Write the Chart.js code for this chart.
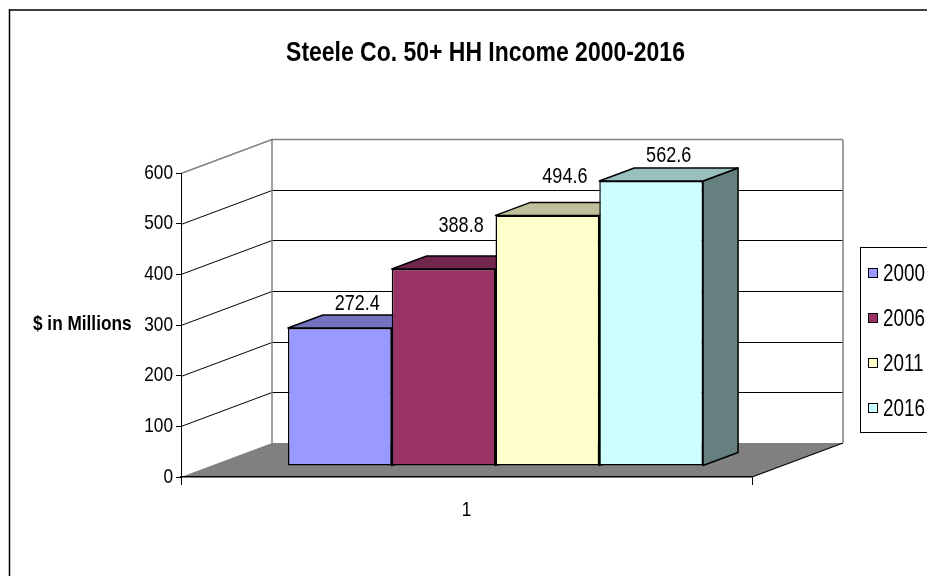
<!DOCTYPE html>
<html><head><meta charset="utf-8">
<script src="https://cdn.jsdelivr.net/npm/chart.js@4.4.0/dist/chart.umd.min.js"></script>
<style>html,body{margin:0;padding:0;background:#fff;overflow:hidden}canvas{display:block}</style>
</head><body>
<canvas id="c" width="927" height="576"></canvas>
<script>
// ---- data ----
const categories = ['1'];
const seriesNames = ['2000', '2006', '2011', '2016'];
const values2000 = [272.4];
const values2006 = [388.8];
const values2011 = [494.6];
const values2016 = [562.6];
const yTicks = [0, 100, 200, 300, 400, 500, 600];
const titleText = 'Steele Co. 50+ HH Income 2000-2016';
const yAxisTitle = '$ in Millions';

// ---- styles ----
const seriesValues = [values2000, values2006, values2011, values2016];
const FRONT = ['#9999FF', '#993366', '#FFFFCC', '#CCFFFF'];
const TOP = ['#7373BF', '#73264D', '#BFBF99', '#99BFBF'];
const SIDE = ['#4D4D80', '#4D1A33', '#808066', '#668080'];
const FONT = "'Liberation Sans', Arial, sans-serif";
const NARROW = 0.82;         // horizontal squeeze (narrow face look)
const WDX = 91, WDY = -34;   // wall depth
const BDX = 29, BDY = -11;   // bar plane offset
const DDX = 35, DDY = -13;   // bar depth

function poly(ctx, pts, fill) {
  ctx.beginPath();
  ctx.moveTo(pts[0][0], pts[0][1]);
  for (let i = 1; i < pts.length; i++) ctx.lineTo(pts[i][0], pts[i][1]);
  ctx.closePath();
  ctx.fillStyle = fill; ctx.fill();
  ctx.strokeStyle = '#000'; ctx.lineWidth = 1.5; ctx.lineJoin = 'round'; ctx.stroke();
}
function text(ctx, str, x, y, font, align, baseline) {
  ctx.save();
  ctx.translate(x, y);
  ctx.scale(NARROW, 1);
  ctx.font = font;
  ctx.textAlign = align || 'left';
  ctx.textBaseline = baseline || 'alphabetic';
  ctx.fillStyle = '#000';
  ctx.fillText(str, 0, 0);
  ctx.restore();
}

const threeD = {
  id: 'threeD',
  beforeDraw(chart) {
    const ctx = chart.ctx, a = chart.chartArea, y = chart.scales.y;
    ctx.save();
    ctx.fillStyle = '#fff'; ctx.fillRect(0, 0, chart.width, chart.height);
    // floor
    ctx.beginPath();
    ctx.moveTo(a.left, a.bottom); ctx.lineTo(a.right, a.bottom);
    ctx.lineTo(a.right + WDX, a.bottom + WDY); ctx.lineTo(a.left + WDX, a.bottom + WDY);
    ctx.closePath(); ctx.fillStyle = '#808080'; ctx.fill();
    ctx.strokeStyle = '#000'; ctx.lineWidth = 1.2;
    ctx.beginPath(); ctx.moveTo(a.right, a.bottom); ctx.lineTo(a.right + WDX, a.bottom + WDY); ctx.stroke();
    // wall gridlines
    const maxV = yTicks[yTicks.length - 1];
    yTicks.forEach(v => {
      if (v === 0) return;
      const yf = Math.round(y.getPixelForValue(v)) + 0.5;
      const yb = yf + WDY;
      ctx.strokeStyle = v === maxV ? '#808080' : '#000';
      ctx.lineWidth = v === maxV ? 1.5 : 1;
      ctx.beginPath(); ctx.moveTo(a.left, yf); ctx.lineTo(a.left + WDX, yb); ctx.lineTo(a.right + WDX, yb); ctx.stroke();
    });
    ctx.strokeStyle = '#808080'; ctx.lineWidth = 1.5;
    const yt = Math.round(y.getPixelForValue(maxV)) + 0.5 + WDY;
    ctx.beginPath();
    ctx.moveTo(a.left + WDX, yt); ctx.lineTo(a.left + WDX, a.bottom + WDY);
    ctx.moveTo(a.right + WDX, yt); ctx.lineTo(a.right + WDX, a.bottom + WDY);
    ctx.stroke();
    ctx.restore();
  },
  beforeDatasetsDraw(chart) {
    const ctx = chart.ctx;
    ctx.save();
    ctx.translate(BDX, BDY);
    chart.data.datasets.forEach((ds, i) => {
      chart.getDatasetMeta(i).data.forEach(el => {
        const p = el.getProps(['x', 'y', 'base', 'width'], true);
        const l = p.x - p.width / 2, r = p.x + p.width / 2;
        poly(ctx, [[r, p.y], [r + DDX, p.y + DDY], [r + DDX, p.base + DDY], [r, p.base]], SIDE[i]);
        poly(ctx, [[l, p.y], [l + DDX, p.y + DDY], [r + DDX, p.y + DDY], [r, p.y]], TOP[i]);
      });
    });
    // translation stays active while Chart.js draws the bar fronts
  },
  afterDatasetsDraw(chart, args, opts) {
    const ctx = chart.ctx;
    ctx.restore();
    chart.data.datasets.forEach((ds, i) => {
      chart.getDatasetMeta(i).data.forEach((el, j) => {
        const p = el.getProps(['x', 'y'], true);
        const lift = (opts.labelLift || [])[i] || 5;
        text(ctx, String(ds.data[j]), p.x + BDX + DDX / 2, p.y + BDY + DDY - lift, '22px ' + FONT, 'center');
      });
    });
  },
  afterDraw(chart) {
    const ctx = chart.ctx, xs = chart.scales.x, ys = chart.scales.y;
    // tick labels from the library's scales
    ys.ticks.forEach(t => {
      text(ctx, String(t.value), ys.right - 8, ys.getPixelForValue(t.value), '21px ' + FONT, 'right', 'middle');
    });
    xs.ticks.forEach((t, i) => {
      text(ctx, String(chart.data.labels[i]), xs.getPixelForTick(i), 516, '21px ' + FONT, 'center');
    });
    // title
    text(ctx, titleText, 485.5, 61, 'bold 28px ' + FONT, 'center');
    // y title
    text(ctx, yAxisTitle, 33, 330, 'bold 21px ' + FONT, 'left');
    // legend
    ctx.save();
    ctx.strokeStyle = '#000'; ctx.lineWidth = 1;
    ctx.strokeRect(860.5, 247.5, 100, 185);
    chart.data.datasets.forEach((ds, i) => {
      const cy = 273 + i * 45;
      ctx.fillStyle = ds.backgroundColor;
      ctx.fillRect(868.5, cy - 4.5, 9, 9);
      ctx.strokeRect(868.5, cy - 4.5, 9, 9);
      text(ctx, ds.label, 883, cy + 8, '23px ' + FONT, 'left');
    });
    // outer frame
    ctx.strokeStyle = '#404040'; ctx.lineWidth = 2;
    ctx.beginPath(); ctx.moveTo(9, 10); ctx.lineTo(927, 10); ctx.stroke();
    ctx.strokeStyle = '#000'; ctx.lineWidth = 1.5;
    ctx.beginPath(); ctx.moveTo(9.5, 9); ctx.lineTo(9.5, 576); ctx.stroke();
    ctx.restore();
  }
};

new Chart(document.getElementById('c'), {
  type: 'bar',
  data: {
    labels: categories,
    datasets: seriesNames.map((n, i) => ({
      label: n,
      data: seriesValues[i],
      backgroundColor: FRONT[i],
      borderColor: '#000',
      borderWidth: 1.5,
      borderSkipped: false,
      categoryPercentage: 0.727,
      barPercentage: 1,
      clip: false
    }))
  },
  options: {
    responsive: false,
    animation: false,
    devicePixelRatio: 1,
    layout: { padding: { top: 173, right: 175, bottom: 59, left: 0 } },
    plugins: {
      legend: { display: false },
      title: { display: false },
      tooltip: { enabled: false },
      threeD: { labelLift: [5, 24, 19, 6] }
    },
    scales: {
      x: {
        grid: { display: true, drawOnChartArea: false, drawTicks: true, tickLength: 8, color: '#000', offset: true },
        border: { display: true, color: '#000', width: 1.5 },
        ticks: { display: false },
        afterFit(s) { s.height = 40; }
      },
      y: {
        min: 0, max: 600,
        afterBuildTicks(s) { s.ticks = yTicks.map(v => ({ value: v })); },
        ticks: { display: false },
        grid: { drawOnChartArea: false, drawTicks: true, tickLength: 5, color: '#000' },
        border: { display: true, color: '#000', width: 1 },
        afterFit(s) { s.width = 181; }
      }
    }
  },
  plugins: [threeD]
});
</script>
</body></html>
